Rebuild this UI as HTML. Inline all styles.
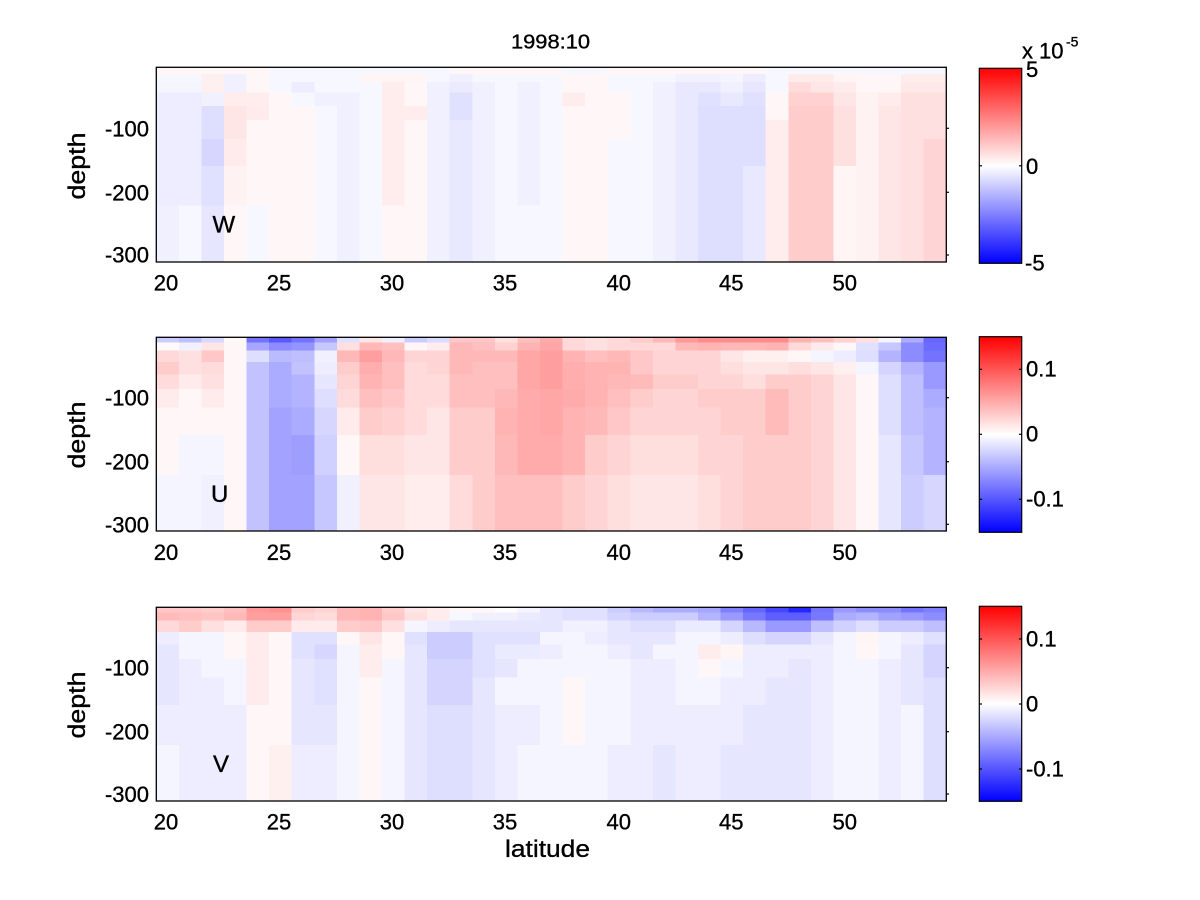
<!DOCTYPE html>
<html><head><meta charset="utf-8">
<style>
html,body{margin:0;padding:0;background:#fff;}
svg{display:block;}
text{font-family:"Liberation Sans",Arial,sans-serif;fill:#000;stroke:#000;stroke-width:0.35px;}
</style></head>
<body>
<svg id="s" width="1200" height="900" viewBox="0 0 1200 900" xmlns="http://www.w3.org/2000/svg">
<defs>
<linearGradient id="cb" x1="0" y1="0" x2="0" y2="1">
<stop offset="0" stop-color="#ff0000"/><stop offset="0.5" stop-color="#ffffff"/><stop offset="1" stop-color="#0000ff"/>
</linearGradient>
</defs>
<rect x="0" y="0" width="1200" height="900" fill="#fff"/>
<g id="cells" shape-rendering="crispEdges"></g>

<!-- axes boxes -->
<g fill="none" stroke="#000" stroke-width="1.3">
<rect x="156.3" y="67.3" width="790" height="194.7"/>
<rect x="156.3" y="337.3" width="790" height="193.7"/>
<rect x="156.3" y="607.3" width="790" height="193.7"/>
</g>
<!-- right side y ticks -->
<g stroke="#000" stroke-width="1.2">
<line x1="946" y1="128.3" x2="949" y2="128.3"/><line x1="946" y1="192.3" x2="949" y2="192.3"/><line x1="946" y1="255" x2="949" y2="255"/>
<line x1="946" y1="397.7" x2="949" y2="397.7"/><line x1="946" y1="461.7" x2="949" y2="461.7"/><line x1="946" y1="524.3" x2="949" y2="524.3"/>
<line x1="946" y1="667.7" x2="949" y2="667.7"/><line x1="946" y1="731.7" x2="949" y2="731.7"/><line x1="946" y1="794" x2="949" y2="794"/>
</g>

<!-- title -->
<text x="550.5" y="48.3" text-anchor="middle" font-size="20" textLength="79" lengthAdjust="spacingAndGlyphs">1998:10</text>

<!-- y tick labels -->
<g font-size="22" text-anchor="end">
<text x="149" y="136.3">-100</text><text x="149" y="200.3">-200</text><text x="149" y="262.7">-300</text>
<text x="149" y="405.7">-100</text><text x="149" y="469.7">-200</text><text x="149" y="532.3">-300</text>
<text x="149" y="675.7">-100</text><text x="149" y="739.7">-200</text><text x="149" y="802">-300</text>
</g>
<!-- x tick labels -->
<g font-size="22" text-anchor="middle">
<text x="166" y="290.3">20</text><text x="279" y="290.3">25</text><text x="392" y="290.3">30</text><text x="505" y="290.3">35</text><text x="618.7" y="290.3">40</text><text x="731.3" y="290.3">45</text><text x="844.7" y="290.3">50</text>
<text x="166" y="559.8">20</text><text x="279" y="559.8">25</text><text x="392" y="559.8">30</text><text x="505" y="559.8">35</text><text x="618.7" y="559.8">40</text><text x="731.3" y="559.8">45</text><text x="844.7" y="559.8">50</text>
<text x="166" y="829.3">20</text><text x="279" y="829.3">25</text><text x="392" y="829.3">30</text><text x="505" y="829.3">35</text><text x="618.7" y="829.3">40</text><text x="731.3" y="829.3">45</text><text x="844.7" y="829.3">50</text>
</g>

<!-- axis labels -->
<g font-size="24" text-anchor="middle">
<text transform="translate(85,166) rotate(-90)" textLength="67" lengthAdjust="spacingAndGlyphs">depth</text>
<text transform="translate(85,435) rotate(-90)" textLength="67" lengthAdjust="spacingAndGlyphs">depth</text>
<text transform="translate(85,705) rotate(-90)" textLength="67" lengthAdjust="spacingAndGlyphs">depth</text>
<text x="547.5" y="857" textLength="85" lengthAdjust="spacingAndGlyphs">latitude</text>
</g>

<!-- panel letters -->
<g font-size="24">
<text x="212.5" y="232.7">W</text>
<text x="211" y="502">U</text>
<text x="213" y="772">V</text>
</g>

<!-- colorbars -->
<rect x="979.3" y="68.3" width="42.4" height="195" fill="url(#cb)" stroke="#000" stroke-width="1.2"/>
<rect x="979.3" y="336.7" width="42.4" height="195.6" fill="url(#cb)" stroke="#000" stroke-width="1.2"/>
<rect x="979.3" y="606.3" width="42.4" height="195" fill="url(#cb)" stroke="#000" stroke-width="1.2"/>
<g stroke="#000" stroke-width="1.2">
<line x1="979.3" y1="165.8" x2="982" y2="165.8"/><line x1="1019" y1="165.8" x2="1021.7" y2="165.8"/>
<line x1="979.3" y1="369.3" x2="982" y2="369.3"/><line x1="1019" y1="369.3" x2="1021.7" y2="369.3"/>
<line x1="979.3" y1="434.3" x2="982" y2="434.3"/><line x1="1019" y1="434.3" x2="1021.7" y2="434.3"/>
<line x1="979.3" y1="499.3" x2="982" y2="499.3"/><line x1="1019" y1="499.3" x2="1021.7" y2="499.3"/>
<line x1="979.3" y1="639" x2="982" y2="639"/><line x1="1019" y1="639" x2="1021.7" y2="639"/>
<line x1="979.3" y1="704" x2="982" y2="704"/><line x1="1019" y1="704" x2="1021.7" y2="704"/>
<line x1="979.3" y1="769" x2="982" y2="769"/><line x1="1019" y1="769" x2="1021.7" y2="769"/>
</g>
<g font-size="22">
<text x="1026" y="77">5</text><text x="1026" y="173.8">0</text><text x="1025" y="270.5">-5</text>
<text x="1026" y="376.7">0.1</text><text x="1026" y="441.7">0</text><text x="1026" y="506.7">-0.1</text>
<text x="1026" y="646.5">0.1</text><text x="1026" y="711.5">0</text><text x="1026" y="776.5">-0.1</text>
<text x="1022" y="58.3">x</text><text x="1039" y="58.3">10</text>
</g>
<text x="1066" y="46.7" font-size="14">-5</text>
</svg>
<script>
(function(){
var P=[
{y:[67.3,74,82,92.7,106,120,139,166,205.7,262],d:[
"3 3 3 3 3 -3 -3 -3 -3 -3 -3 -3 -3 3 3 3 3 3 -3 -3 3 3 3 3 3 3 3 -3 -3 -3 -3 -3 -3 -3 -3",
"-3 -3 6 -6 3 -3 -3 -3 -3 4 4 4 -3 -6 -3 -3 -3 -3 3 3 -3 -3 -3 -5 -5 -4 -7 -3 8 8 4 3 3 7 7",
"-4 -4 6 -6 3 -3 -7 -3 -3 -3 7 3 -6 -8 -6 -3 -6 -3 3 3 -3 -3 -6 -9 -9 -6 -10 -3 14 10 8 3 3 9 9",
"-7 -7 -6 7 7 3 -3 -6 -6 -3 7 3 -6 -12 -6 -3 -6 -3 7 3 3 -3 -6 -9 -12 -9 -12 3 18 18 10 5 8 12 12",
"-7 -7 -13 10 8 3 3 -3 -6 -3 7 7 -6 -12 -6 -3 -6 -3 3 3 3 -3 -6 -9 -13 -13 -13 3 20 20 12 5 10 12 12",
"-7 -7 -13 10 3 3 3 -3 -6 -3 7 3 -6 -9 -6 -3 -6 -3 3 3 3 -3 -6 -9 -13 -13 -13 7 20 20 12 5 10 12 12",
"-7 -7 -16 8 3 3 3 -3 -6 -3 7 3 -6 -9 -6 -3 -6 -3 3 3 -3 -3 -6 -9 -13 -13 -13 7 20 20 12 5 10 12 17",
"-7 -7 -12 5 3 3 3 -3 -6 -3 7 3 -6 -9 -6 -3 -6 -3 3 3 -3 -3 -6 -9 -13 -13 -9 7 20 20 4 5 10 12 17",
"-6 -3 -10 3 -3 3 3 -3 -6 -3 3 3 -6 -9 -6 -3 -3 -3 3 3 -3 -3 -6 -9 -13 -13 -9 7 20 20 4 5 10 12 17"]},
{y:[337.3,342.7,350.7,362,374.7,389,407.7,435,475,531],d:[
"-20 -25 -15 2 -55 -65 -55 -37 -12 10 -6 -20 -14 22 22 12 25 33 15 12 15 20 28 40 45 45 45 45 30 25 18 12 -4 -33 -60",
"2 -6 10 3 -35 -45 -42 -22 12 28 25 3 7 28 25 18 30 35 15 12 15 15 15 28 30 28 28 30 15 8 3 -12 -22 -45 -58",
"15 12 22 3 -13 -27 -25 -6 28 38 28 17 17 28 28 28 35 38 30 25 28 22 17 17 17 10 6 6 3 -4 -7 -13 -30 -45 -55",
"20 12 14 3 -24 -33 -24 -7 20 32 25 14 17 28 25 25 35 38 32 30 30 22 17 17 17 13 10 10 13 10 6 -4 -17 -30 -40",
"14 8 12 3 -24 -33 -30 -10 17 30 25 14 14 25 25 25 35 38 32 30 28 27 20 20 17 17 13 20 20 17 10 3 -13 -25 -40",
"8 3 8 3 -24 -33 -30 -13 14 25 22 14 14 25 25 28 33 35 33 30 25 20 17 17 20 20 20 27 20 17 10 3 -13 -25 -33",
"3 3 3 3 -24 -36 -33 -16 8 20 18 14 10 20 20 30 33 35 30 28 22 17 17 17 17 20 20 27 20 17 10 3 -13 -25 -30",
"3 -4 -4 3 -24 -36 -38 -18 3 13 13 10 10 20 20 28 33 33 30 20 17 13 13 13 17 17 20 20 20 17 10 3 -10 -22 -30",
"-4 -4 -6 3 -24 -36 -36 -22 -6 10 10 7 7 14 20 25 25 25 20 17 13 10 10 10 13 17 20 20 20 17 10 3 -10 -20 -16"]},
{y:[607.3,612.7,620.7,632,644.7,659,677.7,705,745,801],d:[
"22 22 20 25 40 43 20 17 28 30 20 10 7 3 3 1 -4 -10 -12 -12 -20 -28 -32 -32 -35 -50 -60 -72 -85 -55 -40 -45 -45 -55 -50",
"27 25 23 28 38 38 16 14 28 30 22 12 7 -3 -6 -6 -8 -10 -12 -12 -17 -20 -20 -20 -30 -40 -53 -63 -63 -53 -33 -30 -37 -40 -45",
"15 20 12 8 20 20 8 8 20 22 12 -4 -7 -10 -10 -10 -10 -10 -6 -6 -10 -13 -13 -8 -8 -17 -28 -40 -40 -25 -18 -13 -20 -20 -25",
"-7 -4 -4 3 8 3 -12 -12 3 10 3 -12 -20 -20 -12 -12 -12 -4 -4 -7 -10 -10 -10 -4 -4 -7 -13 -17 -17 -10 -4 4 -4 -7 -12",
"-10 -4 -4 3 8 3 -12 -16 -4 7 3 -10 -20 -20 -12 -8 -8 -7 -4 -4 -7 -10 -4 -4 7 4 -7 -7 -7 -7 -4 3 -4 -10 -17",
"-10 -7 -4 -4 8 3 -10 -12 -4 7 -4 -10 -17 -17 -12 -10 -4 -4 -4 -4 -4 -7 -7 -4 3 -4 -7 -7 -10 -7 -4 -4 -7 -10 -17",
"-10 -7 -7 -4 8 3 -10 -12 -4 3 -4 -10 -17 -17 -10 -4 -4 -4 3 -4 -4 -7 -7 -4 -4 -7 -7 -10 -10 -7 -4 -4 -7 -10 -13",
"-7 -7 -7 -7 3 3 -10 -10 -4 3 -4 -10 -13 -13 -10 -7 -7 -4 3 -4 -4 -7 -7 -7 -7 -7 -10 -10 -10 -7 -4 -4 -7 -4 -13",
"-4 -7 -7 -7 3 6 -7 -7 -4 3 -4 -10 -13 -13 -10 -7 -4 -4 -4 -4 -7 -7 -10 -7 -7 -10 -10 -10 -10 -7 -4 -4 -7 -4 -13"]}
];
function col(v){v=v/100;if(v>1)v=1;if(v<-1)v=-1;var r,g,b;
 if(v>=0){r=255;g=b=Math.round(255*(1-v));}else{b=255;r=g=Math.round(255*(1+v));}
 return "rgb("+r+","+g+","+b+")";}
var ns="http://www.w3.org/2000/svg",g=document.getElementById("cells");
var x0=156.3,cw=790/35;
P.forEach(function(p){
 p.d.forEach(function(row,ri){
  var vals=row.trim().split(/\s+/).map(Number);
  var y1=p.y[ri],y2=p.y[ri+1];
  vals.forEach(function(v,ci){
   var r=document.createElementNS(ns,"rect");
   var xa=x0+ci*cw;
   r.setAttribute("x",xa.toFixed(2));
   r.setAttribute("y",y1.toFixed(2));
   r.setAttribute("width",(cw+0.6).toFixed(2));
   r.setAttribute("height",(y2-y1+0.6).toFixed(2));
   r.setAttribute("fill",col(v));
   g.appendChild(r);
  });
 });
});
})();
</script>
</body></html>
